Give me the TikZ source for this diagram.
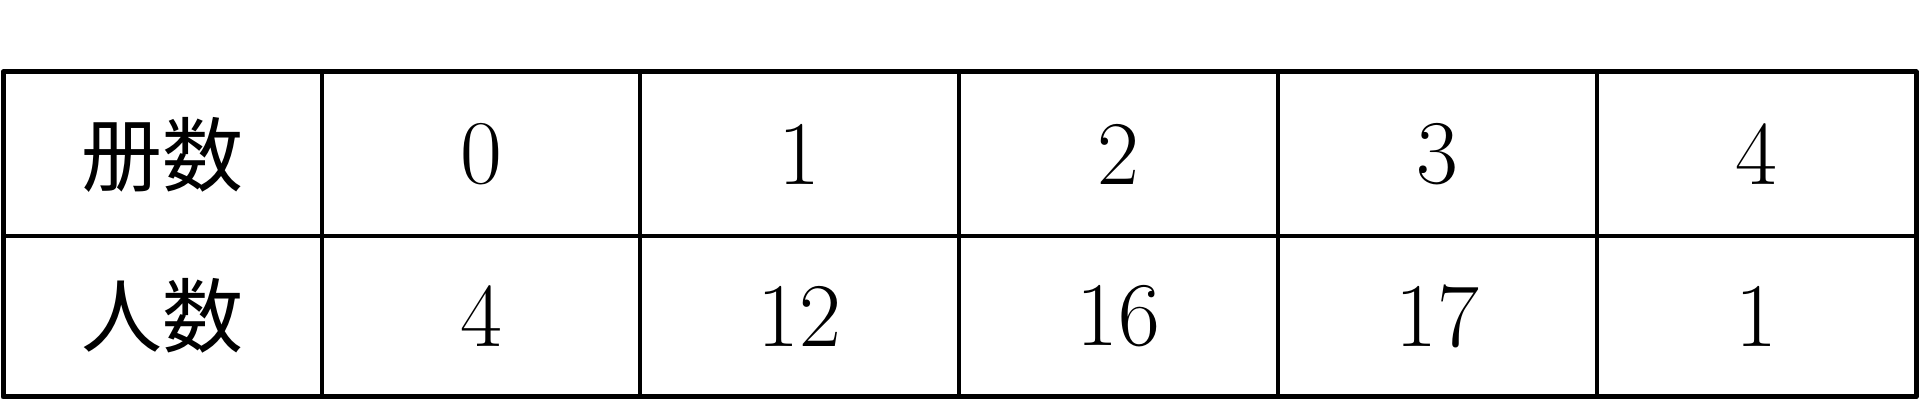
\documentclass[tikz,border=0pt]{standalone}
\usepackage{fontspec}
\newfontfamily\cjk{Noto Sans CJK JP}
\begin{document}
\begin{tikzpicture}[x=1pt,y=1pt,
  cell/.style={inner sep=0pt, font=\fontsize{91}{100}\selectfont},
  cjkcell/.style={inner sep=0pt, font=\cjk\fontsize{81}{90}\selectfont},
  inner line/.style={line width=3.8pt},
  outer line/.style={line width=5pt, line join=round}]
\useasboundingbox (0,0) rectangle (1920,401);
% grid
\draw[inner line] (3,165) -- (1916,165);
\foreach \x in {322,640,959,1278,1597}
  \draw[inner line] (\x,329) -- (\x,4);
\draw[outer line] (3,4) rectangle (1916,329);
% header column
\node[cjkcell] (h1) at (162.5,246.5) {册数};
\node[cjkcell] (h2) at (162.5,85) {人数};
% row 1
\node[cell] (a1) at (481,246.5) {0};
\node[cell] (a2) at (799.5,246.5) {1};
\node[cell] (a3) at (1118.5,246.5) {2};
\node[cell] (a4) at (1437.5,246.5) {3};
\node[cell] (a5) at (1756.5,246.5) {4};
% row 2
\node[cell] (b1) at (481,85) {4};
\node[cell] (b2) at (799.5,85) {12};
\node[cell] (b3) at (1118.5,85) {16};
\node[cell] (b4) at (1437.5,85) {17};
\node[cell] (b5) at (1756.5,85) {1};
\end{tikzpicture}
\end{document}
